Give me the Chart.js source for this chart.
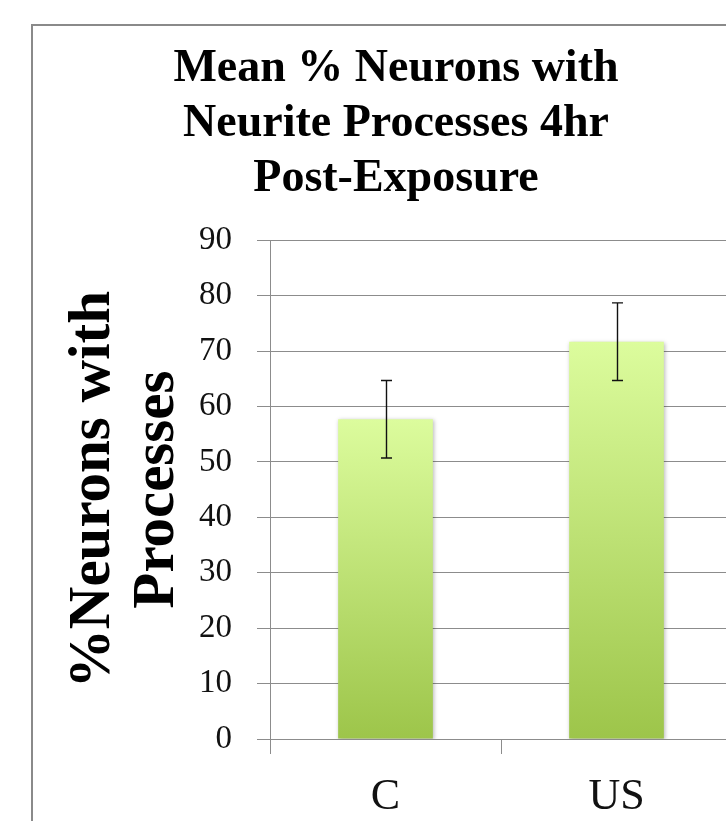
<!DOCTYPE html>
<html>
<head>
<meta charset="utf-8">
<script src="https://cdn.jsdelivr.net/npm/chart.js@4/dist/chart.umd.min.js"></script>
<style>
  html, body { margin: 0; padding: 0; background: #fff; overflow: hidden; width: 726px; height: 821px; }
  #frame { position: absolute; left: 31px; top: 24px; width: 800px; height: 900px; border: 2px solid #8a8a8a; }
  #wrap { position: absolute; left: 0; top: 0; width: 770px; height: 821px; }
</style>
</head>
<body>
<div id="frame"></div>
<div id="wrap"><canvas id="chart" width="770" height="821"></canvas></div>
<script>
// values
var categories = ['C', 'US'];
var meanPct = [57.7, 71.7];
var errPct = [7.0, 7.0];
var yTicks = [0, 10, 20, 30, 40, 50, 60, 70, 80, 90];

var serif = "'Liberation Serif', 'DejaVu Serif', serif";
var gridColor = '#8c8c8c';

function barFill(ctx) {
  var chart = ctx.chart;
  if (!chart.chartArea || ctx.type !== 'data') return '#c0e47a';
  var ys = chart.scales.y;
  var top = ys.getPixelForValue(ctx.raw);
  var bottom = ys.getPixelForValue(0);
  var g = chart.ctx.createLinearGradient(0, top, 0, bottom);
  g.addColorStop(0, '#dcfc9d');
  g.addColorStop(1, '#9dc54a');
  return g;
}

// soft shadow under the bars, then error bars on top
var barExtras = {
  id: 'barExtras',
  beforeDatasetsDraw: function (chart) {
    var c = chart.ctx;
    c.save();
    c.shadowColor = 'rgba(0,0,0,0.28)';
    c.shadowBlur = 4;
    c.shadowOffsetX = 1;
    c.shadowOffsetY = 1;
  },
  afterDatasetsDraw: function (chart) {
    var c = chart.ctx;
    c.restore();
    var ys = chart.scales.y;
    var meta = chart.getDatasetMeta(0);
    c.save();
    c.strokeStyle = '#111';
    c.lineWidth = 1.4;
    meta.data.forEach(function (bar, i) {
      var x = Math.round(bar.x) + 0.5;
      var hi = ys.getPixelForValue(meanPct[i] + errPct[i]);
      var lo = ys.getPixelForValue(meanPct[i] - errPct[i]);
      c.beginPath();
      c.moveTo(x, hi); c.lineTo(x, lo);
      c.moveTo(x - 5.5, hi); c.lineTo(x + 5.5, hi);
      c.moveTo(x - 5.5, lo); c.lineTo(x + 5.5, lo);
      c.stroke();
    });
    c.restore();
  }
};

new Chart(document.getElementById('chart').getContext('2d'), {
  type: 'bar',
  data: {
    labels: categories,
    datasets: [{
      data: meanPct,
      backgroundColor: barFill,
      borderWidth: 0,
      categoryPercentage: 1,
      barPercentage: 0.41
    }]
  },
  plugins: [barExtras],
  options: {
    responsive: false,
    animation: false,
    events: [],
    layout: { padding: { left: 60, right: 38, top: 0, bottom: 0 } },
    plugins: {
      legend: { display: false },
      tooltip: { enabled: false },
      title: {
        display: true,
        text: ['Mean % Neurons with', 'Neurite Processes 4hr', 'Post-Exposure'],
        color: '#000',
        font: { family: serif, size: 46, weight: 'bold', lineHeight: 1.19 },
        padding: { top: 42, bottom: 34 }
      }
    },
    scales: {
      x: {
        afterFit: function (s) { s.height = 82; },
        grid: { drawOnChartArea: false, drawTicks: true, tickLength: 15, color: gridColor, lineWidth: 1 },
        border: { display: true, color: gridColor, width: 1 },
        ticks: { color: '#111', padding: 17, font: { family: serif, size: 44 } }
      },
      y: {
        min: 0,
        max: 90,
        afterFit: function (s) { s.width = 210; },
        afterBuildTicks: function (s) { s.ticks = yTicks.map(function (v) { return { value: v }; }); },
        grid: { color: gridColor, lineWidth: 1, tickLength: 13 },
        border: { display: true, color: gridColor, width: 1 },
        ticks: { color: '#111', padding: 25, font: { family: serif, size: 33 } },
        title: {
          display: true,
          text: ['%Neurons with', 'Processes'],
          color: '#000',
          font: { family: serif, size: 59, weight: 'bold', lineHeight: 1.085 },
          padding: { top: 2, bottom: 0 }
        }
      }
    }
  }
});
</script>
</body>
</html>
